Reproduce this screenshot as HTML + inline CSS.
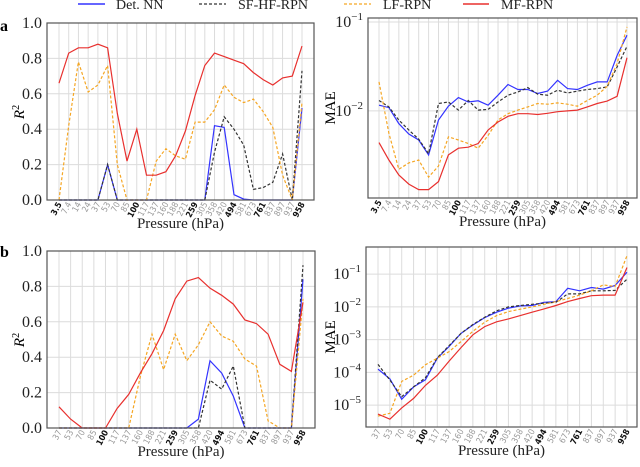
<!DOCTYPE html>
<html><head><meta charset="utf-8"><style>
body{margin:0;background:#fff}
svg text{font-family:"Liberation Serif","DejaVu Serif",serif}
</style></head><body>
<svg id="fig" width="640" height="462" xmlns="http://www.w3.org/2000/svg"></svg>
<script>
const catsA=["3.5","7.4","14","24","37","53","70","85","100","117","137","160","188","221","259","305","358","420","494","581","673","761","837","897","937","958"];
const catsB=["37","53","70","85","100","117","137","160","188","221","259","305","358","420","494","581","673","761","837","897","937","958"];
const boldCats=["3.5","100","259","494","761","958"];
// Panel a R2
const aR2Det=[0,0,0,0,0,0.2,0,0,0,0,0,0,0,0,0,0,0.42,0.41,0.03,0.005,0,0,0,0,0,0.52];
const aR2SF=[0,0,0,0,0,0.2,0,0,0,0,0,0,0,0,0,0,0.27,0.47,0.40,0.31,0.06,0.07,0.10,0.26,0,0.73];
const aR2LF=[0,0.42,0.78,0.61,0.65,0.76,0.2,0,0,0,0.22,0.29,0.25,0.23,0.44,0.44,0.51,0.65,0.58,0.55,0.57,0.50,0.41,0.14,0,0.55];
const aR2MF=[0.66,0.83,0.86,0.86,0.88,0.86,0.49,0.22,0.40,0.14,0.14,0.16,0.25,0.39,0.59,0.76,0.83,0.81,0.79,0.77,0.72,0.68,0.65,0.69,0.70,0.87];
// Panel a MAE
const aMaeDet=[0.0116,0.0109,0.0072,0.0055,0.0047,0.0032,0.0079,0.0113,0.0141,0.0126,0.013,0.0116,0.015,0.0198,0.0174,0.0174,0.0157,0.0167,0.0221,0.0178,0.0174,0.0194,0.0212,0.0212,0.042,0.071];
const aMaeSF=[0.0131,0.0111,0.0079,0.0061,0.0048,0.0033,0.0121,0.0126,0.0102,0.0131,0.0102,0.0104,0.0126,0.015,0.0163,0.0183,0.0154,0.015,0.0171,0.0159,0.0167,0.0174,0.0178,0.0186,0.0312,0.0533];
const aMaeLF=[0.0212,0.0056,0.0022,0.0026,0.0028,0.0018,0.0024,0.0051,0.0047,0.0043,0.0038,0.0053,0.0079,0.0093,0.0102,0.0111,0.0121,0.0119,0.0123,0.0119,0.0113,0.0131,0.015,0.0189,0.034,0.088];
const aMaeMF=[0.0044,0.0028,0.0019,0.0015,0.0013,0.0013,0.0016,0.0032,0.0038,0.0039,0.0043,0.0061,0.0075,0.0087,0.0093,0.0093,0.0091,0.0094,0.0098,0.0100,0.0102,0.0111,0.0121,0.0129,0.0146,0.0397];
// Panel b R2
const bR2Det=[0,0,0,0,0,0,0,0,0,0,0,0,0.05,0.38,0.31,0.18,0,0,0,0,0,0.84];
const bR2SF=[0,0,0,0,0,0,0,0,0,0,0,0,0,0.27,0.22,0.35,0,0,0,0,0,0.92];
const bR2LF=[0,0,0,0,0,0,0,0.29,0.53,0.33,0.53,0.38,0.47,0.60,0.52,0.49,0.39,0.35,0.04,0,0,0.73];
const bR2MF=[0.12,0.05,0,0,0,0.11,0.19,0.31,0.42,0.55,0.73,0.83,0.85,0.79,0.75,0.70,0.61,0.59,0.53,0.36,0.32,0.71];
// Panel b MAE
const bMaeDet=[1.26e-4,6.3e-5,1.5e-5,3.6e-5,5.9e-5,2.7e-4,6.2e-4,1.55e-3,2.8e-3,4.7e-3,6.9e-3,9.1e-3,1.07e-2,1.1e-2,1.38e-2,1.45e-2,3.7e-2,3.1e-2,3.9e-2,3.5e-2,4.5e-2,0.115];
const bMaeSF=[1.75e-4,5.8e-5,1.8e-5,3.6e-5,6.8e-5,2.8e-4,6.5e-4,1.55e-3,2.9e-3,4.8e-3,7.6e-3,1.0e-2,1.1e-2,1.2e-2,1.3e-2,1.38e-2,2.5e-2,2.5e-2,3.1e-2,3.1e-2,3.2e-2,0.07];
const bMaeLF=[4.6e-6,5.6e-6,5.3e-5,8.2e-5,1.7e-4,2.7e-4,4.3e-4,8.7e-4,1.8e-3,3.4e-3,5.4e-3,7.2e-3,8.5e-3,1.0e-2,1.2e-2,1.45e-2,1.8e-2,2.3e-2,3.1e-2,4.7e-2,4.2e-2,0.37];
const bMaeMF=[5.3e-6,3.7e-6,8.2e-6,1.6e-5,4.0e-5,8.2e-5,2.2e-4,5.7e-4,1.4e-3,2.5e-3,3.5e-3,4.3e-3,5.4e-3,6.9e-3,8.7e-3,1.1e-2,1.45e-2,1.8e-2,2.2e-2,2.3e-2,2.3e-2,0.16];

const NS="http://www.w3.org/2000/svg";
const svg=document.getElementById('fig');
function mk(tag,attrs,parent){const e=document.createElementNS(NS,tag);for(const k in attrs)e.setAttribute(k,attrs[k]);(parent||svg).appendChild(e);return e;}
const styles={det:{stroke:"#3333ff",dash:""},sf:{stroke:"#333333",dash:"3,2"},lf:{stroke:"#f5a623",dash:"3,2"},mf:{stroke:"#e8302e",dash:""}};

function panel(name,fl,fr,ft,fb,x0,x1,cats,log,ymin,ymax,yticks,series){
  const g=mk('g',{});
  
  
  const n=cats.length;
  const xs=i=>x0+(x1-x0)*i/(n-1);
  const ys=v=>{const t=log?Math.log10(Math.max(v,1e-9)):v;return fb-(t-ymin)/(ymax-ymin)*(fb-ft);};
  cats.forEach((c,i)=>{const l=mk('line',{x1:xs(i),x2:xs(i),y1:ft,y2:fb,stroke:"#dcdcdc","stroke-width":1},g);
    });
  yticks.forEach(t=>{const y=ys(log?Math.pow(10,t):t);
    const l=mk('line',{x1:fl,x2:fr,y1:y,y2:y,stroke:"#dcdcdc","stroke-width":1},g);
    
    const tx=mk('text',{x:fl-5,y:y+5,"text-anchor":"end","font-size":16,fill:"#222"},g);
    
    if(log){tx.textContent="10";const s=mk('tspan',{dy:-7,"font-size":11},tx);s.textContent="\u2212"+Math.abs(t);}
    else tx.textContent=t.toFixed(1);
  });
  cats.forEach((c,i)=>{const b=boldCats.includes(c);
    const tx=mk('text',{x:0,y:0,"text-anchor":"end","font-size":8.5,"font-weight":b?"bold":"normal",fill:b?"#111":"#999",style:"font-family:'DejaVu Sans Condensed','DejaVu Sans',sans-serif",transform:`translate(${xs(i)+3},${fb+4}) rotate(-62)`},g);
    
    tx.textContent=c;});
  for(const [key,vals] of series){const st=styles[key];
    const d=vals.map((v,i)=>(i?'L':'M')+xs(i).toFixed(1)+','+ys(v).toFixed(1)).join(' ');
    const p=mk('path',{d:d,fill:"none",stroke:st.stroke,"stroke-width":1.2,"stroke-dasharray":st.dash},g);
    }
  const fr_=mk('rect',{x:fl,y:ft,width:fr-fl,height:fb-ft,fill:"none",stroke:"#555","stroke-width":1.2},g);
  
  const xl=mk('text',{x:(fl+fr)/2,y:fb+28,"text-anchor":"middle","font-size":15,fill:"#222"},g);
  
  xl.textContent="Pressure (hPa)";
}
panel('panel-a-r2',47,314,23,200,59,302,catsA,false,0,1,[0,0.2,0.4,0.6,0.8,1.0],[['det',aR2Det],['sf',aR2SF],['lf',aR2LF],['mf',aR2MF]]);
panel('panel-a-mae',368,637,18,198,379,627,catsA,true,-2.98,-0.955,[-1,-2],[['det',aMaeDet],['sf',aMaeSF],['lf',aMaeLF],['mf',aMaeMF]]);
panel('panel-b-r2',47,315,251,428,59,303,catsB,false,0,1,[0,0.2,0.4,0.6,0.8,1.0],[['det',bR2Det],['sf',bR2SF],['lf',bR2LF],['mf',bR2MF]]);
panel('panel-b-mae',366,637,247,427,378,627,catsB,true,-5.67,-0.17,[-1,-2,-3,-4,-5],[['det',bMaeDet],['sf',bMaeSF],['lf',bMaeLF],['mf',bMaeMF]]);
</script>
<svg width="640" height="462" style="position:absolute;left:0;top:0" xmlns="http://www.w3.org/2000/svg">
<g font-family="Liberation Serif, DejaVu Serif, serif">
<text x="0" y="31" font-size="16" font-weight="bold">a</text>
<text x="0" y="257" font-size="16" font-weight="bold">b</text>
<text transform="translate(24,112) rotate(-90)" text-anchor="middle" font-size="15" font-style="italic">R<tspan dy="-5" font-size="10" font-style="normal">2</tspan></text>
<text transform="translate(24,340) rotate(-90)" text-anchor="middle" font-size="15" font-style="italic">R<tspan dy="-5" font-size="10" font-style="normal">2</tspan></text>
<text transform="translate(335,108) rotate(-90)" text-anchor="middle" font-size="15">MAE</text>
<text transform="translate(335,337) rotate(-90)" text-anchor="middle" font-size="15">MAE</text>
<g font-size="14" fill="#222">
<line x1="78" y1="4" x2="105" y2="4" stroke="#3333ff" stroke-width="1.5"/>
<text x="116" y="9">Det. NN</text>
<line x1="199" y1="4" x2="226" y2="4" stroke="#333" stroke-width="1.2" stroke-dasharray="3,2"/>
<text x="238" y="9">SF-HF-RPN</text>
<line x1="344" y1="4" x2="371" y2="4" stroke="#f5a623" stroke-width="1.2" stroke-dasharray="3,2"/>
<text x="383" y="9">LF-RPN</text>
<line x1="463" y1="4" x2="489" y2="4" stroke="#e8302e" stroke-width="1.5"/>
<text x="501" y="9">MF-RPN</text>
</g>
</g>
</svg>
</body></html>
